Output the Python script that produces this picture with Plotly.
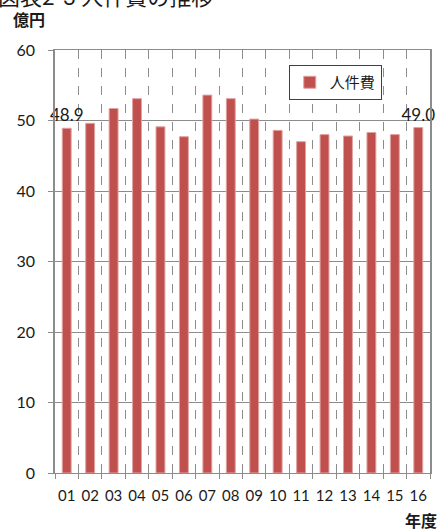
import plotly.graph_objects as go

# 人件費（億円）年度別
years = ["01", "02", "03", "04", "05", "06", "07", "08",
         "09", "10", "11", "12", "13", "14", "15", "16"]
personnel_cost = [48.9, 49.6, 51.7, 53.1, 49.1, 47.7, 53.6, 53.1,
                  50.2, 48.6, 47.0, 48.0, 47.8, 48.3, 48.0, 49.0]
y_ticks = [0, 10, 20, 30, 40, 50, 60]

# 最初と最後の年度だけ値を表示
bar_text = [f"{v:.1f}" if i in (0, len(personnel_cost) - 1) else ""
            for i, v in enumerate(personnel_cost)]

W, H = 441, 529
ML, MR, MT, MB = 55, 9, 50, 56
PW, PH = W - ML - MR, H - MT - MB

def px_x(x):
    return (x - ML) / PW

def px_y(y):
    return 1 - (y - MT) / PH

FONT = "Lato, 'Noto Sans CJK JP', sans-serif"
GRID = "#8c8c8c"
BAR = "#C0504D"

fig = go.Figure(
    go.Bar(
        x=years,
        y=personnel_cost,
        name="人件費",
        width=0.38,
        marker=dict(color=BAR, line=dict(color="#E0A3A1", width=1)),
        text=bar_text,
        textposition="outside",
        constraintext="none",
        textfont=dict(size=17, color="#1a1a1a", family=FONT),
        cliponaxis=False,
    )
)

fig.update_layout(
    width=W,
    height=H,
    margin=dict(l=ML, r=MR, t=MT, b=MB),
    paper_bgcolor="white",
    plot_bgcolor="white",
    font=dict(family=FONT, color="#1a1a1a"),
    showlegend=True,
    legend=dict(
        x=px_x(290), y=px_y(65), xanchor="left", yanchor="top",
        bordercolor="#404040", borderwidth=1, bgcolor="white",
        font=dict(size=15, family=FONT),
        itemwidth=30,
    ),
    annotations=[
        dict(text="図表2-3 人件費の推移", xref="paper", yref="paper",
             x=px_x(-4), y=px_y(-4), xanchor="left", yanchor="middle",
             showarrow=False, font=dict(size=22, family=FONT, color="#1a1a1a")),
        dict(text="<b>億円</b>", xref="paper", yref="paper",
             x=px_x(11), y=px_y(19), xanchor="left", yanchor="middle",
             showarrow=False, font=dict(size=16, family=FONT, color="#1a1a1a")),
        dict(text="<b>年度</b>", xref="paper", yref="paper",
             x=px_x(441), y=px_y(520), xanchor="right", yanchor="middle",
             showarrow=False, font=dict(size=16, family=FONT, color="#1a1a1a")),
    ],
)

fig.update_xaxes(
    type="category",
    tickson="boundaries",
    tickangle=0,
    ticks="outside",
    ticklen=5,
    tickcolor=GRID,
    showgrid=True,
    gridcolor=GRID,
    griddash="dash",
    gridwidth=1,
    showline=True,
    linecolor=GRID,
    linewidth=1,
    mirror=True,
    tickfont=dict(size=15, family=FONT),
    ticklabelstandoff=9,
)

fig.update_yaxes(
    range=[0, 60],
    tickvals=y_ticks,
    ticks="outside",
    ticklen=5,
    tickcolor=GRID,
    showgrid=True,
    gridcolor=GRID,
    gridwidth=1,
    showline=True,
    linecolor=GRID,
    linewidth=1.5,
    mirror=True,
    zeroline=False,
    tickfont=dict(size=16, family=FONT),
    ticklabelstandoff=10,
)

fig.write_html("out.html")
